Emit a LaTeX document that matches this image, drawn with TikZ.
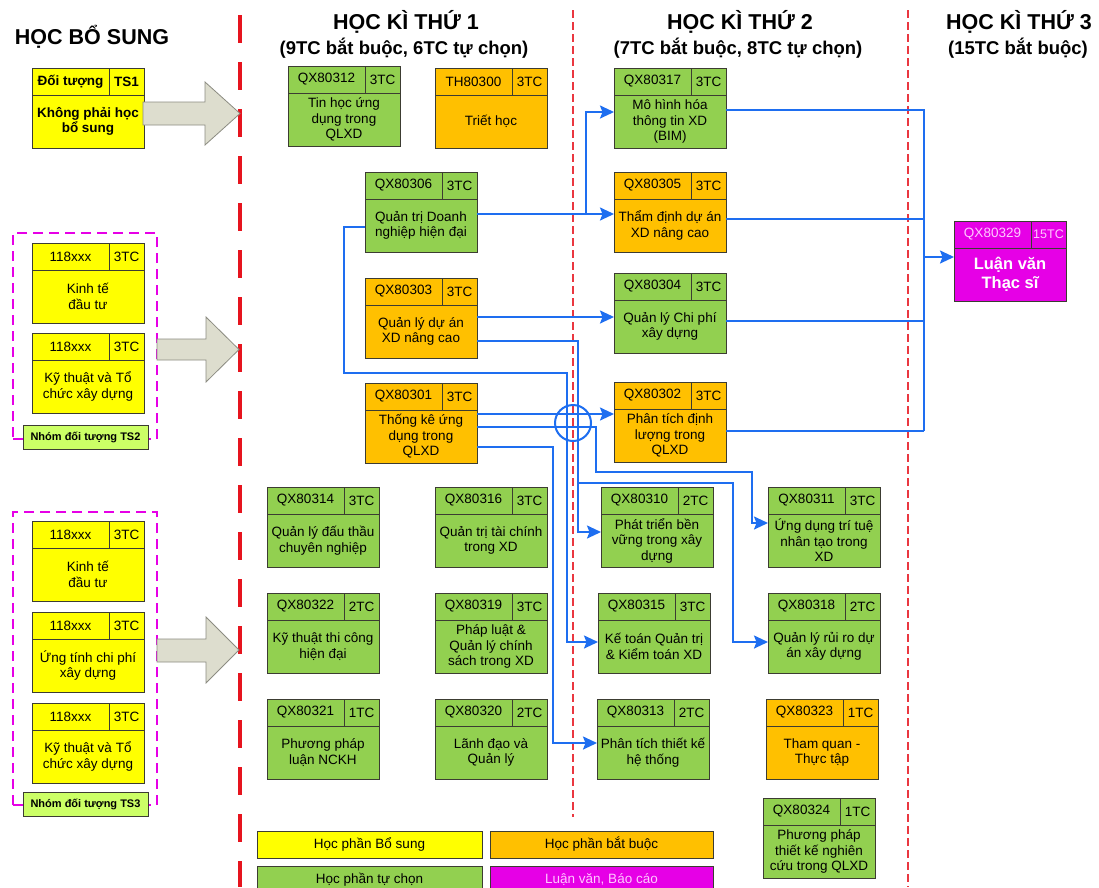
\documentclass[tikz,border=0pt]{standalone}
\usepackage{fontspec}
\setmainfont{Liberation Sans}
\usetikzlibrary{arrows.meta,positioning,calc}
\definecolor{hsyellow}{RGB}{255,255,0}
\definecolor{hsorange}{RGB}{255,192,0}
\definecolor{hsgreen}{RGB}{146,208,80}
\definecolor{hsmagenta}{RGB}{230,0,230}
\definecolor{hslime}{RGB}{204,255,102}
\definecolor{hsblue}{RGB}{30,110,240}
\definecolor{hsred}{RGB}{230,20,30}
\definecolor{hsline}{RGB}{60,60,50}
\definecolor{hsarrow}{RGB}{221,221,206}
\definecolor{hsarrowline}{RGB}{140,140,130}
\definecolor{hspink}{RGB}{255,200,255}
\newcommand{\boxfont}{\fontsize{13.5}{15.5}\selectfont}
% one course box: [text style]{name}{x}{y}{fill}{code}{credits}{title}
\newcommand{\course}[8][]{%
  \node[subj,fill=#5] (#2) at (#3,#4) {};
  \node[subjcode,fill=#5,#1] (#2c) at (#2.north west) {#6};
  \node[subjtc,fill=#5,#1] (#2t) at (#2.north east) {#7};
  \node[subjtext,#1] (#2b) at ([yshift=-13.5pt]#2.center) {#8};}

\begin{document}
\begin{tikzpicture}[x=1pt,y=-1pt,
  subj/.style={draw=hsline,line width=0.9pt,anchor=north west,minimum width=112pt,
    minimum height=80pt,inner sep=0pt,outer sep=0pt},
  subjcode/.style={draw=hsline,line width=0.9pt,anchor=north west,minimum width=77pt,
    minimum height=27pt,inner sep=0pt,outer sep=0pt,font=\boxfont},
  subjtc/.style={draw=hsline,line width=0.9pt,anchor=north east,minimum width=35pt,
    minimum height=27pt,inner sep=0pt,outer sep=0pt,font=\boxfont},
  subjtext/.style={align=center,inner sep=0pt,font=\boxfont},
  head/.style={font=\fontsize{21.5}{25}\selectfont\bfseries,inner sep=0pt},
  subhead/.style={font=\fontsize{18.5}{22}\selectfont\bfseries,inner sep=0pt},
  grp/.style={draw=hsmagenta,line width=1.6pt,dash pattern=on 10pt off 6pt,anchor=north west,
    inner sep=0pt,outer sep=0pt},
  grplabel/.style={fill=hslime,draw=hsline,line width=0.9pt,minimum width=125pt,minimum height=24pt,
    inner sep=0pt,font=\fontsize{11}{13}\selectfont\bfseries},
  legend/.style={draw=hsline,line width=0.9pt,anchor=north west,minimum width=225pt,
    minimum height=27pt,inner sep=0pt,outer sep=0pt,font=\boxfont},
  bigarrow/.style={fill=hsarrow,draw=hsarrowline,line width=0.8pt},
  sepbold/.style={draw=hsred,line width=4pt,dash pattern=on 28pt off 19pt},
  septhin/.style={draw=hsred!85!white,line width=1.3pt,dash pattern=on 8pt off 4pt},
  link/.style={draw=hsblue,line width=2pt},
  flow/.style={draw=hsblue,line width=2pt,-{Stealth[length=14pt,width=13pt,inset=2.5pt]}}
]
  \useasboundingbox[fill=white] (0,0) rectangle (1099,887);
  % Separators
  \draw[sepbold] (240,15) -- (240,887);
  \draw[septhin] (573,10) -- (573,817);
  \draw[septhin] (908,10) -- (908,887);
  % Headings
  \node[head] (h0) at (92,37) {HỌC BỔ SUNG};
  \node[head] (h1) at (406,22) {HỌC KÌ THỨ 1};
  \node[subhead] (s1) at (404,48) {(9TC bắt buộc, 6TC tự chọn)};
  \node[head] (h2) at (740,22) {HỌC KÌ THỨ 2};
  \node[subhead] (s2) at (738,48) {(7TC bắt buộc, 8TC tự chọn)};
  \node[head] (h3) at (1019,22) {HỌC KÌ THỨ 3};
  \node[subhead] (s3) at (1018,48) {(15TC bắt buộc)};

  % Supplementary courses
  \course[font=\boxfont\bfseries]{ts1}{32}{68}{hsyellow}{Đối tượng}{TS1}{Không phải học\\bổ sung}
  \node[grp,minimum width=144pt,minimum height=206pt] (grp2) at (13,233) {};
  \course{ts2a}{32}{243}{hsyellow}{118xxx}{3TC}{Kinh tế\\đầu tư}
  \course{ts2b}{32}{333}{hsyellow}{118xxx}{3TC}{Kỹ thuật và Tổ\\chức xây dựng}
  \node[grplabel] (lab2) at (85.5,437.5) {Nhóm đối tượng TS2};
  \node[grp,minimum width=144pt,minimum height=293pt] (grp3) at (13,512) {};
  \course{ts3a}{32}{521}{hsyellow}{118xxx}{3TC}{Kinh tế\\đầu tư}
  \course{ts3b}{32}{612}{hsyellow}{118xxx}{3TC}{Ứng tính chi phí\\xây dựng}
  \course{ts3c}{32}{703}{hsyellow}{118xxx}{3TC}{Kỹ thuật và Tổ\\chức xây dựng}
  \node[grplabel] (lab3) at (85.5,804.5) {Nhóm đối tượng TS3};
  % Big arrows
  \filldraw[bigarrow] (143,102) -- (205,102) -- (205,82) -- (240,113.5) -- (205,145) -- (205,125) -- (143,125) -- cycle;
  \filldraw[bigarrow] (157,339) -- (206,339) -- (206,317) -- (239,349.5) -- (206,382) -- (206,360) -- (157,360) -- cycle;
  \filldraw[bigarrow] (157,639) -- (206,639) -- (206,617) -- (239,650) -- (206,683) -- (206,662) -- (157,662) -- cycle;

  % Semester 1
  \course{n312}{288}{66}{hsgreen}{QX80312}{3TC}{Tin học ứng\\dụng trong\\QLXD}
  \course{n300}{435}{68}{hsorange}{TH80300}{3TC}{Triết học}
  \course{n306}{365}{172}{hsgreen}{QX80306}{3TC}{Quản trị Doanh\\nghiệp hiện đại}
  \course{n303}{365}{278}{hsorange}{QX80303}{3TC}{Quản lý dự án\\XD nâng cao}
  \course{n301}{365}{383}{hsorange}{QX80301}{3TC}{Thống kê ứng\\dụng trong\\QLXD}
  \course{n314}{267}{487}{hsgreen}{QX80314}{3TC}{Quản lý đấu thầu\\chuyên nghiệp}
  \course{n316}{435}{487}{hsgreen}{QX80316}{3TC}{Quản trị tài chính\\trong XD}
  \course{n322}{267}{593}{hsgreen}{QX80322}{2TC}{Kỹ thuật thi công\\hiện đại}
  \course{n319}{435}{593}{hsgreen}{QX80319}{3TC}{Pháp luật \&\\Quản lý chính\\sách trong XD}
  \course{n321}{267}{699}{hsgreen}{QX80321}{1TC}{Phương pháp\\luận NCKH}
  \course{n320}{435}{699}{hsgreen}{QX80320}{2TC}{Lãnh đạo và\\Quản lý}

  % Semester 2
  \course{n317}{614}{68}{hsgreen}{QX80317}{3TC}{Mô hình hóa\\thông tin XD\\(BIM)}
  \course{n305}{614}{172}{hsorange}{QX80305}{3TC}{Thẩm định dự án\\XD nâng cao}
  \course{n304}{614}{273}{hsgreen}{QX80304}{3TC}{Quản lý Chi phí\\xây dựng}
  \course{n302}{614}{382}{hsorange}{QX80302}{3TC}{Phân tích định\\lượng trong\\QLXD}
  \course{n310}{601}{487}{hsgreen}{QX80310}{2TC}{Phát triển bền\\vững trong xây\\dựng}
  \course{n311}{768}{487}{hsgreen}{QX80311}{3TC}{Ứng dụng trí tuệ\\nhân tạo trong\\XD}
  \course{n315}{598}{593}{hsgreen}{QX80315}{3TC}{Kế toán Quản trị\\\& Kiểm toán XD}
  \course{n318}{768}{593}{hsgreen}{QX80318}{2TC}{Quản lý rủi ro dự\\án xây dựng}
  \course{n313}{597}{699}{hsgreen}{QX80313}{2TC}{Phân tích thiết kế\\hệ thống}
  \course{n323}{766}{699}{hsorange}{QX80323}{1TC}{Tham quan -\\Thực tập}
  \course{n324}{763}{798}{hsgreen}{QX80324}{1TC}{Phương pháp\\thiết kế nghiên\\cứu trong QLXD}

  % Semester 3
  \node[subj,fill=hsmagenta] (n329) at (954,221) {};
  \node[subjcode,fill=hsmagenta,text=hspink] (n329c) at (n329.north west) {QX80329};
  \node[subjtc,fill=hsmagenta,text=hspink,font=\fontsize{12.5}{15}\selectfont] (n329t) at (n329.north east) {15TC};
  \node[subjtext,text=white,font=\fontsize{16.5}{19}\selectfont\bfseries] (n329b)
    at ([yshift=-13.5pt]n329.center) {Luận văn\\Thạc sĩ};

  % Connectors
  \draw[flow] ([yshift=-2pt]n306.east) -- ([yshift=-2pt]n305.west);
  \coordinate (j1) at (586,214);
  \draw[flow] (j1) |- ([yshift=-4pt]n317.west);
  \draw[flow] ([yshift=1pt]n303.east) -- ([yshift=-4pt]n304.west);
  \draw[flow] ([yshift=-23pt]n303.east) -- ++(101,0) |- ([yshift=-5pt]n310.west);
  \coordinate (j2) at (578,483);
  \draw[flow] (j2) -- ++(155,0) |- ([yshift=-9pt]n318.west);
  \draw[flow] ([yshift=9pt]n301.east) -- ([yshift=8pt]n302.west);
  \draw[flow] ([yshift=-4pt]n301.east) -- ++(119,0) -- ++(0,45)
    -| ([xshift=-16pt,yshift=4pt]n311.west) -- ([yshift=4pt]n311.west);
  \draw[flow] ([yshift=-24pt]n301.east) -- ++(76,0) |- ([yshift=-4pt]n313.west);
  \draw[flow] ([yshift=-15pt]n306.west) -- ++(-21,0) -- ++(0,146) -- ++(223,0)
    |- ([yshift=-9pt]n315.west);
  \draw[link] (573,423) circle[radius=18pt];
  % into the thesis
  \draw[link] ([yshift=-2pt]n317.east) -- ++(198,0) -- ++(0,321);
  \draw[link] ([yshift=-7pt]n305.east) -- ++(198,0);
  \draw[link] ([yshift=-8pt]n304.east) -- ++(198,0);
  \draw[link] ([yshift=-9pt]n302.east) -- ++(198,0);
  \draw[flow] ([xshift=-31pt,yshift=4pt]n329.west) -- ([yshift=4pt]n329.west);

  % Legend
  \node[legend,fill=hsyellow] (lg1) at (257,831) {Học phần Bổ sung};
  \node[legend,fill=hsorange,minimum width=223pt] (lg2) at (490,831) {Học phần bắt buộc};
  \node[legend,fill=hsgreen] (lg3) at (257,866) {Học phần tự chọn};
  \node[legend,fill=hsmagenta,minimum width=223pt,text=hspink] (lg4) at (490,866) {Luận văn, Báo cáo};
\end{tikzpicture}
\end{document}
